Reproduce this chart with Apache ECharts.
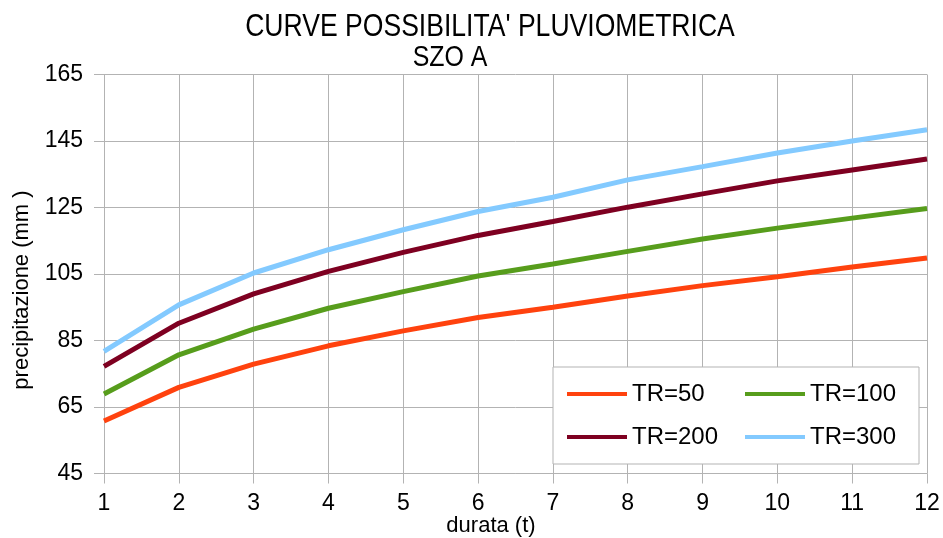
<html>
<head>
<meta charset="utf8">
<script src="https://cdn.jsdelivr.net/npm/echarts@6/dist/echarts.min.js" type="text/javascript"></script>
<title></title>
<style>
	body { margin: 0; background: #fff; }
</style>
</head>
<body>
<div id="echarts-main" style="height:538px;width:943px;"></div>
<script type="text/javascript">
	// durata (t)
	var durations = [1, 2, 3, 4, 5, 6, 7, 8, 9, 10, 11, 12];
	// precipitazione (mm)
	var tr50  = [60.8, 70.9, 77.9, 83.4, 87.9, 91.9, 95.0, 98.4, 101.5, 104.2, 107.1, 109.8];
	var tr100 = [68.9, 80.7, 88.4, 94.7, 99.7, 104.4, 108.0, 111.8, 115.5, 118.8, 121.8, 124.7];
	var tr200 = [77.2, 90.2, 99.0, 105.8, 111.5, 116.6, 120.8, 125.1, 129.1, 133.0, 136.3, 139.6];
	var tr300 = [81.7, 95.7, 105.3, 112.3, 118.3, 123.8, 128.1, 133.3, 137.3, 141.4, 145.0, 148.4];
	var seriesNames = ['TR=50', 'TR=100', 'TR=200', 'TR=300'];
	var seriesColors = ['#ff420e', '#579d1c', '#7e0021', '#83caff'];

	function pairs(values) {
		var out = [];
		for (var i = 0; i < durations.length; i++) {
			out.push([durations[i], values[i]]);
		}
		return out;
	}

	function drawChart() {
		var myChart = echarts.init(document.getElementById("echarts-main"));
		var font = 'Liberation Sans';
		var gridColor = '#b3b3b3';
		var all = [tr50, tr100, tr200, tr300];
		var series = [];
		for (var i = 0; i < all.length; i++) {
			series.push({
				name: seriesNames[i],
				type: 'line',
				data: pairs(all[i]),
				showSymbol: false,
				symbol: 'none',
				lineStyle: { width: 5, color: seriesColors[i] },
				itemStyle: { color: seriesColors[i] }
			});
		}
		var option = {
			animation: false,
			color: seriesColors,
			grid: { left: 104, right: 16, top: 74.5, bottom: 64.5 },
			xAxis: {
				type: 'value',
				min: 1,
				max: 12,
				interval: 1,
				axisLine: { show: true, lineStyle: { color: gridColor } },
				axisTick: { show: true, length: 10, lineStyle: { color: gridColor } },
				splitLine: { show: true, lineStyle: { color: gridColor, width: 1 } },
				axisLabel: { color: '#000', fontFamily: font, fontSize: 23, margin: 19 }
			},
			yAxis: {
				type: 'value',
				min: 45,
				max: 165,
				interval: 20,
				axisLine: { show: true, lineStyle: { color: gridColor } },
				axisTick: { show: true, length: 10, lineStyle: { color: gridColor } },
				splitLine: { show: true, lineStyle: { color: gridColor, width: 1 } },
				axisLabel: { color: '#000', fontFamily: font, fontSize: 23, margin: 21 }
			},
			legend: {
				data: seriesNames,
				left: 553,
				top: 367,
				width: 340,
				orient: 'horizontal',
				icon: 'rect',
				itemWidth: 60,
				itemHeight: 4,
				itemGap: 19,
				padding: [15, 15, 15, 14],
				backgroundColor: '#fff',
				borderColor: gridColor,
				borderWidth: 1,
				borderRadius: 0,
				textStyle: { color: '#000', fontFamily: font, fontSize: 24, width: 94, lineHeight: 21 }
			},
			graphic: [
				{ type: 'text', x: 490, y: 27, scaleX: 0.83, style: { text: "CURVE POSSIBILITA' PLUVIOMETRICA", fontFamily: font, fontSize: 32, fill: '#000', textAlign: 'center', textVerticalAlign: 'middle' } },
				{ type: 'text', x: 450, y: 58, scaleX: 0.83, style: { text: 'SZO A', fontFamily: font, fontSize: 30, fill: '#000', textAlign: 'center', textVerticalAlign: 'middle' } },
				{ type: 'text', x: 491, y: 526, style: { text: 'durata (t)', fontFamily: font, fontSize: 22, fill: '#000', textAlign: 'center', textVerticalAlign: 'middle' } },
				{ type: 'text', x: 22, y: 290, rotation: Math.PI / 2, style: { text: 'precipitazione (mm )', fontFamily: font, fontSize: 22, fill: '#000', textAlign: 'center', textVerticalAlign: 'middle' } }
			],
			series: series
		};
		myChart.setOption(option);
	}

	drawChart();
</script>
</body>
</html>
